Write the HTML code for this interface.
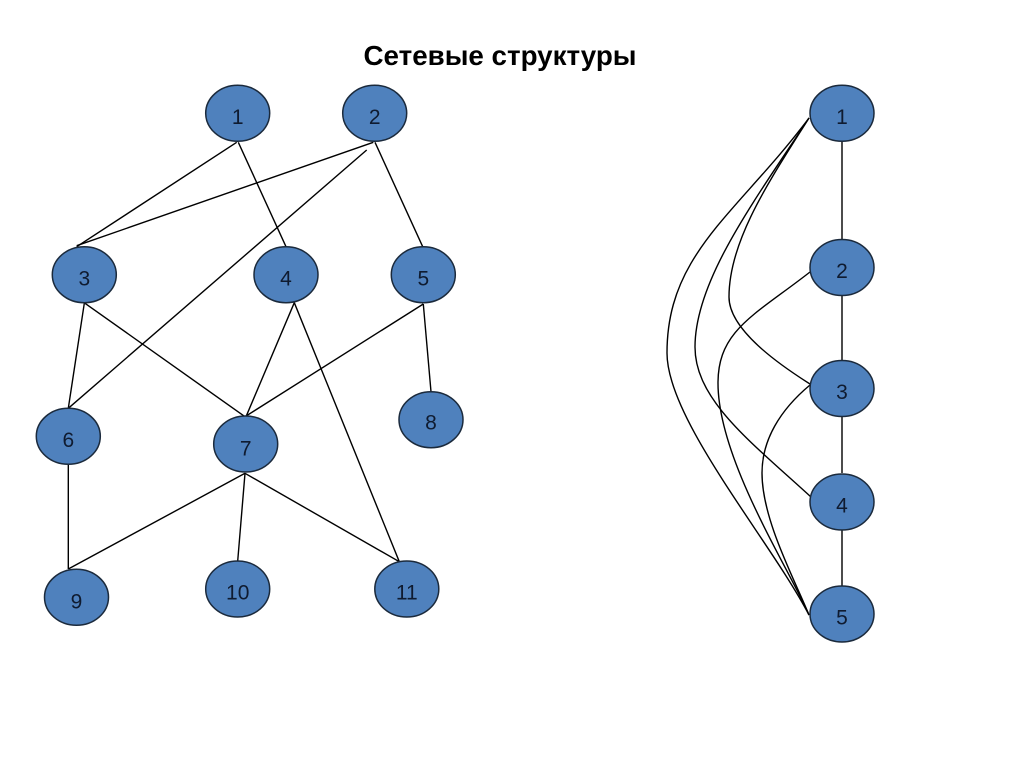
<!DOCTYPE html>
<html>
<head>
<meta charset="utf-8">
<style>
html,body{margin:0;padding:0;background:#fff;}
svg{display:block;}
</style>
</head>
<body>
<svg width="1024" height="768" viewBox="0 0 1024 768" xmlns="http://www.w3.org/2000/svg">
<rect width="1024" height="768" fill="#fff"/>
<text x="500" y="65" text-anchor="middle" font-family="Liberation Sans, Arial, sans-serif" font-weight="bold" font-size="28" fill="#000" textLength="273" lengthAdjust="spacingAndGlyphs">Сетевые структуры</text>

<g stroke="#000" stroke-width="1.4" fill="none">
  <!-- left graph edges -->
  <line x1="236.7" y1="142.3" x2="76.7" y2="246.7"/>
  <line x1="373.3" y1="142.3" x2="76.7" y2="245.7"/>
  <line x1="366.7" y1="150" x2="68.3" y2="408.3"/>
  <line x1="238.3" y1="142.3" x2="286" y2="246.7"/>
  <line x1="375" y1="142.3" x2="422.7" y2="246.7"/>
  <line x1="84.3" y1="303.3" x2="68.3" y2="408.3"/>
  <line x1="85" y1="303.3" x2="245" y2="416.7"/>
  <line x1="294.3" y1="302.7" x2="246" y2="416.7"/>
  <line x1="294.3" y1="302.7" x2="399.3" y2="561.7"/>
  <line x1="423.3" y1="304" x2="245" y2="416.7"/>
  <line x1="423.3" y1="304" x2="431" y2="391.7"/>
  <line x1="68.3" y1="464.3" x2="68.3" y2="569"/>
  <line x1="245" y1="473.3" x2="68.3" y2="569"/>
  <line x1="245" y1="473.3" x2="237.7" y2="561"/>
  <line x1="245" y1="473.3" x2="399.3" y2="561.7"/>

  <!-- right graph straight edges -->
  <line x1="842" y1="141" x2="842" y2="239"/>
  <line x1="842" y1="295" x2="842" y2="360"/>
  <line x1="842" y1="416" x2="842" y2="473"/>
  <line x1="842" y1="529" x2="842" y2="586"/>

  <!-- right graph curves -->
  <path d="M809,118 C737,214 667,253 667,353 C667,420 770,540 809,615"/>
  <path d="M809,118 C755,200 695,280 695,347 C695,400 751,442 811,497"/>
  <path d="M809,118 C770,180 729,240 729,297 C729,330 780,365 810,384"/>
  <path d="M810,272 C755,315 718,330 718,383 C718,460 790,570 809,615"/>
  <path d="M810,385 C780,410 762,440 762,473 C762,520 795,580 809,615"/>
</g>

<g fill="#4F81BD" stroke="#1b2a3c" stroke-width="1.5">
  <ellipse cx="237.7" cy="113.3" rx="32" ry="28"/>
  <ellipse cx="374.7" cy="113.3" rx="32" ry="28"/>
  <ellipse cx="84.3" cy="274.7" rx="32" ry="28"/>
  <ellipse cx="286" cy="274.7" rx="32" ry="28"/>
  <ellipse cx="423.3" cy="274.7" rx="32" ry="28"/>
  <ellipse cx="68.3" cy="436.3" rx="32" ry="28"/>
  <ellipse cx="245.7" cy="444" rx="32" ry="28"/>
  <ellipse cx="431" cy="419.7" rx="32" ry="28"/>
  <ellipse cx="76.5" cy="597.3" rx="32" ry="28"/>
  <ellipse cx="237.7" cy="589" rx="32" ry="28"/>
  <ellipse cx="406.8" cy="589" rx="32" ry="28"/>

  <ellipse cx="842" cy="113.3" rx="32" ry="28"/>
  <ellipse cx="842" cy="267.5" rx="32" ry="28"/>
  <ellipse cx="842" cy="388.5" rx="32" ry="28"/>
  <ellipse cx="842" cy="502" rx="32" ry="28"/>
  <ellipse cx="842" cy="614" rx="32" ry="28"/>
</g>

<g font-family="Liberation Sans, Arial, sans-serif" font-size="21" fill="#0f1b30" text-anchor="middle">
  <text x="237.7" y="124">1</text>
  <text x="374.7" y="124">2</text>
  <text x="84.3" y="285.5">3</text>
  <text x="286" y="285.5">4</text>
  <text x="423.3" y="285.5">5</text>
  <text x="68.3" y="447">6</text>
  <text x="245.7" y="455.5">7</text>
  <text x="431" y="429.5">8</text>
  <text x="76.5" y="608.5">9</text>
  <text x="237.7" y="599.5">10</text>
  <text x="406.8" y="599.5">11</text>

  <text x="842" y="124">1</text>
  <text x="842" y="278">2</text>
  <text x="842" y="399">3</text>
  <text x="842" y="512.5">4</text>
  <text x="842" y="624.5">5</text>
</g>
</svg>
</body>
</html>
